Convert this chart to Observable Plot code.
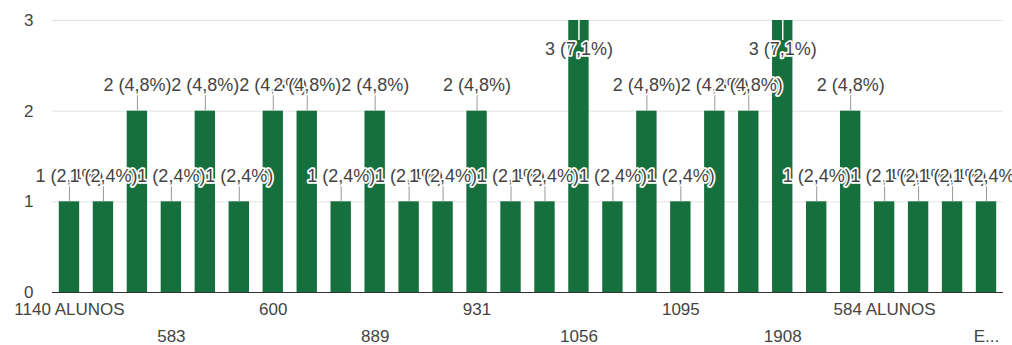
<!DOCTYPE html>
<html>
<head>
<meta charset="utf-8">
<script src="https://cdn.jsdelivr.net/npm/d3@7"></script>
<script src="https://cdn.jsdelivr.net/npm/@observablehq/plot@0.6"></script>
<style>
  html, body { margin: 0; padding: 0; background: #fff; }
</style>
</head>
<body>
<div id="chart"></div>
<script>
// Categories (only every third label is visible in the reference; hidden ones are placeholders)
const categories = [
  "1140 ALUNOS", "sem rótulo 2", "sem rótulo 3", "583", "sem rótulo 5", "sem rótulo 6",
  "600", "sem rótulo 8", "sem rótulo 9", "889", "sem rótulo 11", "sem rótulo 12",
  "931", "sem rótulo 14", "sem rótulo 15", "1056", "sem rótulo 17", "sem rótulo 18",
  "1095", "sem rótulo 20", "sem rótulo 21", "1908", "sem rótulo 23", "sem rótulo 24",
  "584 ALUNOS", "sem rótulo 26", "sem rótulo 27", "E..."
];
const counts = [1, 1, 2, 1, 2, 1, 2, 2, 1, 2, 1, 1, 2, 1, 1, 3, 1, 2, 1, 2, 2, 3, 1, 2, 1, 1, 1, 1];
const xLabelsRow1 = ["1140 ALUNOS", "600", "931", "1095", "584 ALUNOS"];
const xLabelsRow2 = ["583", "889", "1056", "1908", "E..."];
const yTicks = [0, 1, 2, 3];

const total = d3.sum(counts);
const fmtPct = v => (v / total * 100).toFixed(1).replace(".", ",");
const data = categories.map((c, i) => ({
  category: c,
  count: counts[i],
  label: `${counts[i]} (${fmtPct(counts[i])}%)`
}));
const low = data.filter(d => d.count < 3);
const high = data.filter(d => d.count >= 3);

const font = "'Liberation Sans', Arial, sans-serif";

const chart = Plot.plot({
  width: 1012,
  height: 345,
  marginLeft: 52,
  marginRight: 9,
  marginTop: 20,
  marginBottom: 53,
  style: { fontFamily: font, fontSize: "17px", color: "#444", background: "#fff" },
  x: { domain: categories, paddingInner: 0.4, paddingOuter: 0.2, round: false, axis: null, label: null },
  y: { domain: [0, 3], axis: null, label: null },
  marks: [
    Plot.ruleY(yTicks.slice(1), { stroke: "#e4e4e4" }),
    Plot.barY(data, { x: "category", y: "count", fill: "#16703d" }),
    Plot.ruleY([0], { stroke: "#333", strokeWidth: 1.2 }),
    Plot.axisY(yTicks, { tickSize: 0, tickPadding: 19, fontSize: 17, fill: "#444", tickFormat: "d", label: null }),
    Plot.axisX(xLabelsRow1, { tickSize: 0, tickPadding: 10, fontSize: 17, fill: "#444", label: null }),
    Plot.axisX(xLabelsRow2, { tickSize: 0, tickPadding: 37, fontSize: 17, fill: "#444", label: null }),
    // annotation stems
    Plot.ruleX(low, { x: "category", y1: "count", y2: "count", insetTop: -17, insetBottom: 0, stroke: "#999" }),
    Plot.ruleX(high, { x: "category", y1: "count", y2: "count", insetTop: 0, insetBottom: -20, stroke: "#fff", strokeWidth: 1.5 }),
    // annotations
    Plot.text(low, { x: "category", y: "count", text: "label", dy: -26, fontSize: 18, fill: "#444", stroke: "#fff", strokeWidth: 3.5 }),
    Plot.text(high, { x: "category", y: "count", text: "label", dy: 29, fontSize: 18, fill: "#444", stroke: "#fff", strokeWidth: 3.5 })
  ]
});
document.getElementById("chart").append(chart);
</script>
</body>
</html>
